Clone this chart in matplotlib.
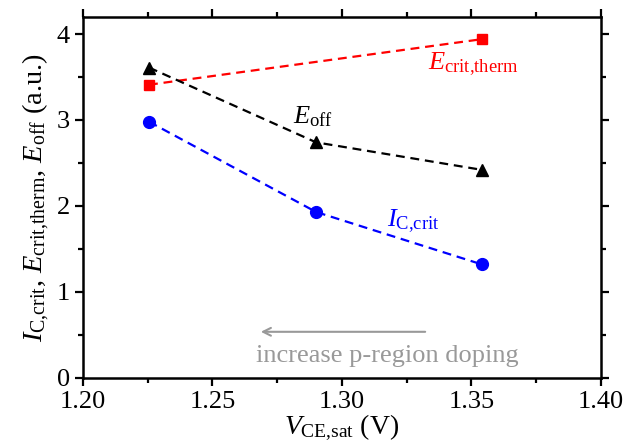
import matplotlib
matplotlib.use("Agg")
import matplotlib.pyplot as plt
from matplotlib.ticker import MultipleLocator

plt.rcParams['font.family'] = 'Liberation Serif'
plt.rcParams['mathtext.fontset'] = 'custom'
plt.rcParams['mathtext.rm'] = 'Liberation Serif'
plt.rcParams['mathtext.it'] = 'Liberation Serif:italic'

# data
vce_sat = [1.2255, 1.290, 1.354]
e_crit_therm = [3.41, 3.94]
e_off = [3.61, 2.74, 2.42]
ic_crit = [2.98, 1.93, 1.32]

fig = plt.figure(figsize=(6.38, 4.43), dpi=100)
ax = fig.add_axes([0.130, 0.147, 0.812, 0.815])

dash = (0, (4, 2.6))
ax.plot([vce_sat[0], vce_sat[2]], e_crit_therm, color='red', ls=dash, lw=1.6,
        marker='s', ms=7, zorder=3)
ax.plot(vce_sat, e_off, color='black', ls=dash, lw=1.6,
        marker='^', ms=8, zorder=3)
ax.plot(vce_sat, ic_crit, color='blue', ls=dash, lw=1.6,
        marker='o', ms=8.5, zorder=3)

ax.text(1.2811, 2.96, r'$E_{\rm off}$', fontsize=19, color='black')
ax.text(1.3331, 3.59, r'$E_{\rm crit{,}therm}$', fontsize=19, color='red')
ax.text(1.3173, 1.76, r'$I_{\rm C{,}crit}$', fontsize=19, color='blue')

ax.annotate('', xy=(1.2676, 0.536), xytext=(1.3332, 0.536),
            arrowprops=dict(arrowstyle='->', color='#999999', lw=1.5,
                            mutation_scale=14))
ax.text(1.3176, 0.19, 'increase p-region doping', fontsize=19,
        color='#999999', ha='center')

ax.set_xlim(1.20, 1.40)
ax.set_ylim(0, 4.2)
ax.xaxis.set_major_locator(MultipleLocator(0.05))
ax.xaxis.set_minor_locator(MultipleLocator(0.025))
ax.yaxis.set_major_locator(MultipleLocator(1))
ax.yaxis.set_minor_locator(MultipleLocator(0.5))
ax.xaxis.set_major_formatter(plt.FormatStrFormatter('%.2f'))

ax.tick_params(which='both', direction='out', top=True, right=True,
               width=1.6, labelsize=19)
ax.tick_params(which='major', length=6)
ax.tick_params(which='minor', length=3.5)
for s in ax.spines.values():
    s.set_linewidth(1.8)

ax.set_xlabel(r'$V_{\rm CE{,}sat}$ (V)', fontsize=20, labelpad=0)
ax.set_ylabel(r'$I_{\rm C{,}crit}$, $E_{\rm crit{,}therm}$, $E_{\rm off}$ (a.u.)',
              fontsize=20.5, labelpad=3)

fig.savefig('out.png', dpi=100)
